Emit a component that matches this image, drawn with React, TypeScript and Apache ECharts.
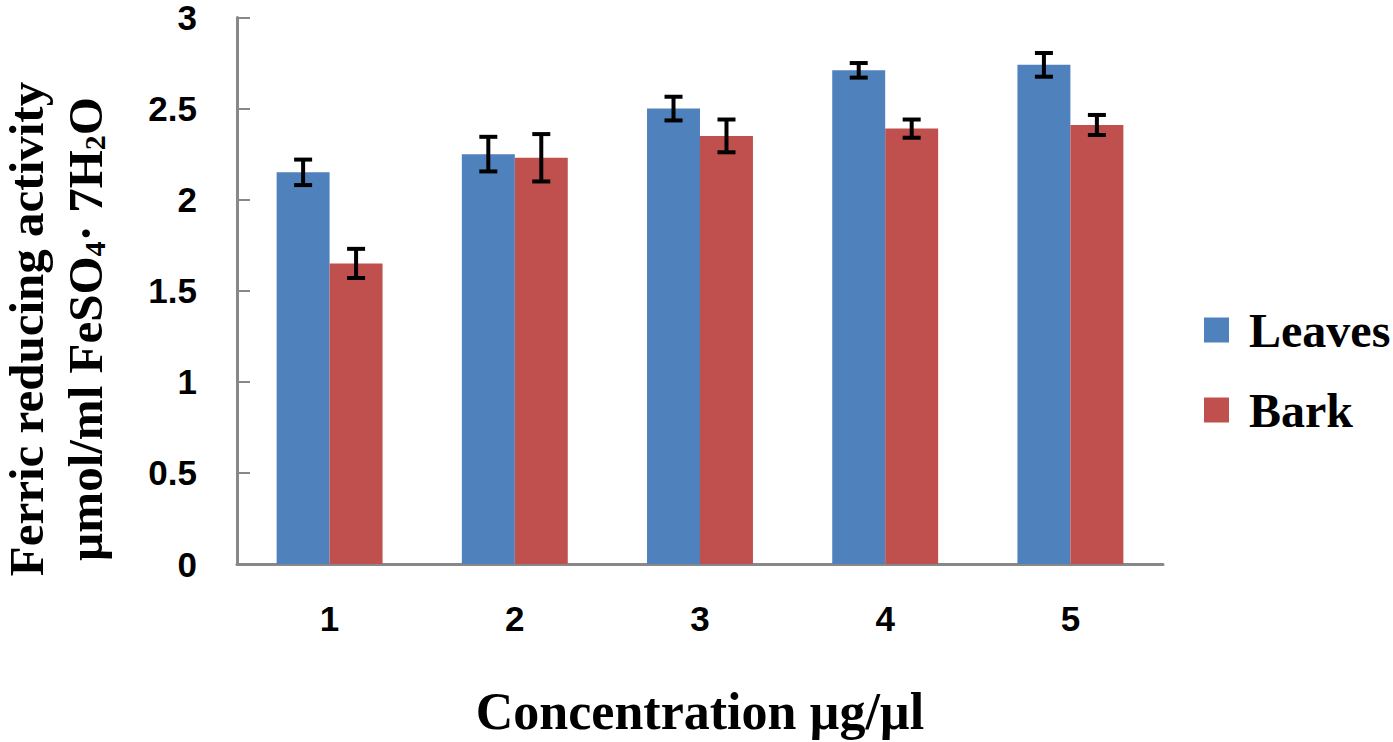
import React, { useEffect, useRef } from "react";
import * as echarts from "echarts";

const categories = ["1", "2", "3", "4", "5"];
const leaves = [2.15, 2.25, 2.5, 2.71, 2.74];
const leavesErr = [0.07, 0.095, 0.065, 0.04, 0.065];
const bark = [1.65, 2.23, 2.35, 2.39, 2.41];
const barkErr = [0.08, 0.13, 0.09, 0.05, 0.055];
const seriesNames = ["Leaves", "Bark"];
const colors = ["#4F81BD", "#C0504D"];

const GAP = 0.428;

function errorData(vals: number[], errs: number[]) {
  return vals.map((v, i) => [i, v - errs[i], v + errs[i]]);
}

function makeErr(data: number[][], side: number) {
  return {
    type: "custom",
    silent: true,
    z: 10,
    data,
    encode: { x: 0, y: [1, 2] },
    renderItem: (params: any, api: any) => {
      const idx = api.value(0);
      const lo = api.value(1);
      const hi = api.value(2);
      const band = api.size([1, 0])[0];
      const barW = (band * (1 - GAP)) / 2;
      const pLo = api.coord([idx, lo]);
      const pHi = api.coord([idx, hi]);
      const x = pLo[0] + side * barW / 2;
      const cap = 9;
      const style = { stroke: "#000", lineWidth: 4 };
      return {
        type: "group",
        children: [
          { type: "line", shape: { x1: x, y1: pLo[1], x2: x, y2: pHi[1] }, style },
          { type: "line", shape: { x1: x - cap, y1: pLo[1], x2: x + cap, y2: pLo[1] }, style },
          { type: "line", shape: { x1: x - cap, y1: pHi[1], x2: x + cap, y2: pHi[1] }, style },
        ],
      };
    },
  };
}

export default function App() {
  const ref = useRef<HTMLDivElement>(null);
  useEffect(() => {
    if (!ref.current) return;
    const chart = echarts.init(ref.current, null, { renderer: "svg" });
    const serif = "Liberation Serif";
    const sans = "Liberation Sans";
    chart.setOption({
      animation: false,
      backgroundColor: "#fff",
      grid: { left: 237, right: 230, top: 15, bottom: 175, containLabel: false },
      legend: {
        orient: "vertical",
        left: 1199,
        top: 300,
        itemWidth: 25,
        itemHeight: 25,
        itemGap: 30,
        icon: "rect",
        data: seriesNames,
        textStyle: {
          fontFamily: serif,
          fontWeight: "bold",
          fontSize: 48,
          lineHeight: 50,
          color: "#000",
          padding: [0, 0, 0, 15],
        },
      },
      xAxis: {
        type: "category",
        data: categories,
        name: "Concentration µg/µl",
        nameLocation: "middle",
        nameGap: 121,
        nameTextStyle: { fontFamily: serif, fontWeight: "bold", fontSize: 52, color: "#000" },
        axisLine: { lineStyle: { color: "#888", width: 3 } },
        axisTick: { inside: true, length: 12, lineStyle: { color: "#888", width: 2 } },
        axisLabel: { margin: 37, fontFamily: sans, fontWeight: "bold", fontSize: 35, color: "#000" },
      },
      yAxis: {
        type: "value",
        min: 0,
        max: 3,
        interval: 0.5,
        splitLine: { show: false },
        axisLine: { show: true, lineStyle: { color: "#888", width: 3 } },
        axisTick: { show: true, inside: true, length: 13, lineStyle: { color: "#888", width: 2 } },
        axisLabel: { margin: 40, fontFamily: sans, fontWeight: "bold", fontSize: 35, lineHeight: 26, color: "#000" },
      },
      graphic: [
        {
          type: "text",
          x: 26,
          y: 329,
          rotation: Math.PI / 2,
          style: {
            text: "Ferric reducing activity",
            fontFamily: serif,
            fontWeight: "bold",
            fontSize: 49,
            lineHeight: 44,
            fill: "#000",
            align: "center",
            verticalAlign: "middle",
          },
        },
        {
          type: "text",
          x: 85,
          y: 329,
          rotation: Math.PI / 2,
          style: {
            text: "{a|µmol/ml FeSO}{s|4}{a|· 7H}{s|2}{a|O}",
            align: "center",
            verticalAlign: "middle",
            fill: "#000",
            rich: {
              a: { fontFamily: serif, fontWeight: "bold", fontSize: 49, lineHeight: 49, padding: [0, 0, 8, 0], verticalAlign: "top", fill: "#000" },
              s: { fontFamily: serif, fontWeight: "bold", fontSize: 30, lineHeight: 30, verticalAlign: "bottom", fill: "#000" },
            },
          },
        },
      ],
      series: [
        {
          name: seriesNames[0],
          type: "bar",
          data: leaves,
          barGap: "0%",
          barCategoryGap: (GAP * 100).toFixed(1) + "%",
          itemStyle: { color: colors[0] },
        },
        {
          name: seriesNames[1],
          type: "bar",
          data: bark,
          barGap: "0%",
          barCategoryGap: (GAP * 100).toFixed(1) + "%",
          itemStyle: { color: colors[1] },
        },
        makeErr(errorData(leaves, leavesErr), -1),
        makeErr(errorData(bark, barkErr), 1),
      ],
    });
    return () => chart.dispose();
  }, []);
  return (
    <div
      ref={ref}
      style={{ position: "fixed", left: 0, top: 0, width: 1393, height: 742 }}
    />
  );
}
